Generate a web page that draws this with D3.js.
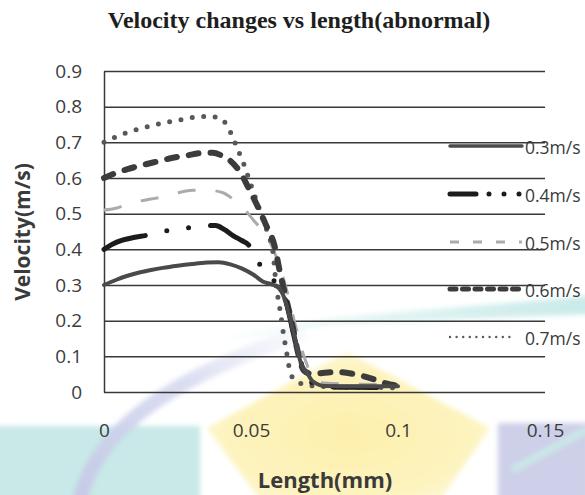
<!DOCTYPE html>
<html>
<head>
<meta charset="utf-8">
<script src="https://cdn.jsdelivr.net/npm/d3@7"></script>
<style>
  body { margin: 0; background: #fff; }
  svg { display: block; }
</style>
</head>
<body>
<div id="chart"></div>
<script>
// Length (mm) and velocity (m/s) samples, one pair of arrays per inlet velocity
const len03 = [0, 0.004, 0.008, 0.012, 0.016, 0.02, 0.025, 0.03, 0.035, 0.039, 0.043, 0.047, 0.051, 0.054, 0.057, 0.059, 0.0615, 0.0635, 0.0655, 0.067, 0.069, 0.071, 0.075, 0.085, 0.1];
const vel03 = [0.300, 0.314, 0.326, 0.335, 0.342, 0.348, 0.354, 0.359, 0.363, 0.364, 0.358, 0.346, 0.328, 0.310, 0.302, 0.295, 0.260, 0.200, 0.130, 0.080, 0.055, 0.030, 0.017, 0.016, 0.016];

const len04 = [0, 0.003, 0.006, 0.01, 0.015, 0.02, 0.025, 0.03, 0.035, 0.038, 0.041, 0.044, 0.047, 0.049, 0.052, 0.055, 0.058, 0.06, 0.062, 0.064, 0.066, 0.068, 0.07, 0.075, 0.085, 0.1];
const vel04 = [0.400, 0.415, 0.425, 0.433, 0.440, 0.450, 0.456, 0.462, 0.466, 0.467, 0.455, 0.438, 0.424, 0.414, 0.370, 0.335, 0.310, 0.290, 0.250, 0.180, 0.110, 0.060, 0.030, 0.015, 0.013, 0.012];

const len05 = [0, 0.004, 0.008, 0.012, 0.016, 0.02, 0.025, 0.03, 0.035, 0.04, 0.044, 0.048, 0.051, 0.0555, 0.059, 0.062, 0.065, 0.068, 0.071, 0.075, 0.085, 0.1];
const vel05 = [0.510, 0.515, 0.527, 0.535, 0.541, 0.547, 0.558, 0.566, 0.566, 0.560, 0.540, 0.510, 0.480, 0.435, 0.370, 0.290, 0.190, 0.100, 0.045, 0.025, 0.022, 0.020];

const len06 = [0, 0.004, 0.008, 0.013, 0.018, 0.023, 0.028, 0.033, 0.037, 0.040, 0.043, 0.046, 0.049, 0.052, 0.055, 0.058, 0.060, 0.062, 0.064, 0.066, 0.068, 0.071, 0.075, 0.079, 0.084, 0.088, 0.092, 0.096, 0.1];
const vel06 = [0.600, 0.614, 0.625, 0.636, 0.646, 0.656, 0.663, 0.670, 0.671, 0.663, 0.648, 0.620, 0.575, 0.525, 0.470, 0.410, 0.330, 0.260, 0.190, 0.110, 0.060, 0.050, 0.054, 0.056, 0.052, 0.045, 0.035, 0.024, 0.017];

const len07 = [0, 0.004, 0.008, 0.012, 0.016, 0.020, 0.024, 0.028, 0.032, 0.036, 0.039, 0.0415, 0.0435, 0.0455, 0.0475, 0.050, 0.053, 0.0555, 0.0576, 0.0583, 0.0593, 0.0600, 0.0610, 0.0617, 0.0624, 0.0630, 0.0644, 0.0678, 0.075, 0.1];
const vel07 = [0.700, 0.715, 0.728, 0.738, 0.746, 0.754, 0.760, 0.766, 0.772, 0.773, 0.768, 0.752, 0.720, 0.680, 0.640, 0.580, 0.510, 0.450, 0.384, 0.320, 0.258, 0.224, 0.165, 0.130, 0.098, 0.067, 0.038, 0.022, 0.015, 0.012];

const seriesNames = ['0.3m/s', '0.4m/s', '0.5m/s', '0.6m/s', '0.7m/s'];
const xTicks = [0, 0.05, 0.1, 0.15];
const yTicks = [0, 0.1, 0.2, 0.3, 0.4, 0.5, 0.6, 0.7, 0.8, 0.9];

const W = 585, H = 495;
const plot = { left: 104, right: 545, top: 71, bottom: 392 };

const svg = d3.select('#chart').append('svg')
  .attr('width', W)
  .attr('height', H);

svg.append('rect').attr('width', W).attr('height', H).attr('fill', '#fff');

// faint printed logo behind the chart
const defs = svg.append('defs');
defs.append('filter').attr('id', 'soft')
  .append('feGaussianBlur').attr('stdDeviation', 2.5);
const streak = defs.append('linearGradient').attr('id', 'streak')
  .attr('x1', 0).attr('x2', 1).attr('y1', 0).attr('y2', 0);
streak.append('stop').attr('offset', 0).attr('stop-color', '#d3efee').attr('stop-opacity', 0);
streak.append('stop').attr('offset', 0.45).attr('stop-color', '#d3efee').attr('stop-opacity', 0.7);
streak.append('stop').attr('offset', 1).attr('stop-color', '#c8eae8').attr('stop-opacity', 1);
const arc = defs.append('linearGradient').attr('id', 'arc')
  .attr('x1', 0).attr('x2', 1).attr('y1', 1).attr('y2', 0);
arc.append('stop').attr('offset', 0).attr('stop-color', '#c6cae6').attr('stop-opacity', 1);
arc.append('stop').attr('offset', 0.6).attr('stop-color', '#d2d6ee').attr('stop-opacity', 0.8);
arc.append('stop').attr('offset', 1).attr('stop-color', '#e0e6f3').attr('stop-opacity', 0.2);
const sun = defs.append('radialGradient').attr('id', 'sun')
  .attr('cx', 0.5).attr('cy', 0.55).attr('r', 0.6);
sun.append('stop').attr('offset', 0).attr('stop-color', '#fdf0ad');
sun.append('stop').attr('offset', 0.7).attr('stop-color', '#fdf3bd');
sun.append('stop').attr('offset', 1).attr('stop-color', '#fef8dc');

const logo = svg.append('g').attr('filter', 'url(#soft)');
logo.append('rect').attr('x', -5).attr('y', 426).attr('width', 205).attr('height', 80).attr('fill', '#c8e9e7');
logo.append('rect').attr('x', 498).attr('y', 423).attr('width', 92).attr('height', 80).attr('fill', '#cdd0e8');
logo.append('path').attr('d', 'M512,470 L590,428').attr('stroke', '#cbe8e8').attr('stroke-width', 7).attr('fill', 'none');
logo.append('polygon')
  .attr('points', '347,352 490,428 440,500 260,500 207,428')
  .attr('fill', 'url(#sun)');
logo.append('path')
  .attr('d', 'M215,338 L330,318 L590,296 L590,314 L330,325 L215,343 Z')
  .attr('fill', 'url(#streak)');
logo.append('path')
  .attr('d', 'M80,500 Q102,398 305,333')
  .attr('stroke', 'url(#arc)').attr('stroke-width', 15).attr('fill', 'none');

const x = d3.scaleLinear().domain([0, 0.15]).range([plot.left, plot.right]);
const y = d3.scaleLinear().domain([0, 0.9]).range([plot.bottom, plot.top]);

// Y axis with gridlines
const yAxis = svg.append('g')
  .attr('transform', `translate(${plot.left},0)`)
  .call(d3.axisLeft(y)
    .tickValues(yTicks)
    .tickSizeInner(-(plot.right - plot.left))
    .tickSizeOuter(0)
    .tickPadding(22)
    .tickFormat(d => String(d)));
yAxis.select('.domain').attr('stroke', '#383838').attr('stroke-width', 1.5);
yAxis.selectAll('.tick line').attr('stroke', '#383838').attr('stroke-width', 1.5);
yAxis.selectAll('.tick text')
  .attr('font-family', '"Open Sans", sans-serif')
  .attr('font-size', 19)
  .attr('fill', '#3c3c3c');

// X axis: labels only
const xAxis = svg.append('g')
  .attr('transform', `translate(0,${plot.bottom})`)
  .call(d3.axisBottom(x)
    .tickValues(xTicks)
    .tickSize(0)
    .tickFormat(d => String(d)));
xAxis.select('.domain').remove();
xAxis.selectAll('.tick text')
  .attr('y', 38)
  .attr('dy', '0.35em')
  .attr('font-family', '"Open Sans", sans-serif')
  .attr('font-size', 19)
  .attr('fill', '#3c3c3c');

const styles = [
  { color: '#4a4a4a', width: 4, dash: null, cap: 'round', legendDash: null },
  { color: '#1c1c1c', width: 5, dash: '44 22 0 22 0 22', cap: 'round', legendDash: '26 13 0 15 0 15 0 200' },
  { color: '#ababab', width: 3, dash: '18 20', cap: 'butt', legendDash: '9 14' },
  { color: '#3c3c3c', width: 6, dash: '10 12', cap: 'round', legendDash: '6 6.5' },
  { color: '#585858', width: 5, dash: '0 11.5', cap: 'round', legendDash: '0 6.6' }
];

const series = [
  d3.zip(len03, vel03),
  d3.zip(len04, vel04),
  d3.zip(len05, vel05),
  d3.zip(len06, vel06),
  d3.zip(len07, vel07)
];

const line = d3.line()
  .x(d => x(d[0]))
  .y(d => y(d[1]))
  .curve(d3.curveMonotoneX);

const drawOrder = [2, 4, 3, 1, 0];
svg.append('g').selectAll('path')
  .data(drawOrder)
  .join('path')
  .attr('d', i => line(series[i]))
  .attr('fill', 'none')
  .attr('stroke', i => styles[i].color)
  .attr('stroke-width', i => styles[i].width)
  .attr('stroke-linecap', i => styles[i].cap)
  .attr('stroke-linejoin', 'round')
  .attr('stroke-dasharray', i => styles[i].dash);

// Legend on the right
const legendRows = [146, 194, 242, 289, 337];
const legend = svg.append('g');
seriesNames.forEach((name, i) => {
  const row = legend.append('g').attr('transform', `translate(0,${legendRows[i]})`);
  const s = styles[i];
  const x1 = 450, x2 = i === 4 ? 510 : 522;
  row.append('line')
    .attr('x1', x1).attr('x2', x2)
    .attr('stroke', s.color)
    .attr('stroke-width', i === 4 ? 2.4 : (i === 3 ? 5 : (i === 0 ? 3.5 : s.width)))
    .attr('stroke-linecap', s.cap)
    .attr('stroke-dasharray', s.legendDash);
  row.append('text')
    .attr('x', 525)
    .attr('y', 2)
    .attr('dy', '0.35em')
    .attr('font-family', '"Open Sans", sans-serif')
    .attr('font-size', 17.5)
    .attr('fill', '#3a3a3a')
    .text(name);
});

// Titles
svg.append('text')
  .attr('x', 299)
  .attr('y', 28)
  .attr('text-anchor', 'middle')
  .attr('font-family', '"Liberation Serif", "Times New Roman", serif')
  .attr('font-weight', 'bold')
  .attr('font-size', 24)
  .attr('fill', '#1e1e1e')
  .text('Velocity changes vs length(abnormal)');

svg.append('text')
  .attr('transform', 'translate(23,232) rotate(-90)')
  .attr('text-anchor', 'middle')
  .attr('dy', '0.35em')
  .attr('font-family', '"Open Sans", sans-serif')
  .attr('font-weight', 'bold')
  .attr('font-size', 21)
  .attr('fill', '#3a3a3a')
  .text('Velocity(m/s)');

svg.append('text')
  .attr('x', 325)
  .attr('y', 488)
  .attr('text-anchor', 'middle')
  .attr('font-family', '"Open Sans", sans-serif')
  .attr('font-weight', 'bold')
  .attr('font-size', 22)
  .attr('fill', '#3a3a3a')
  .text('Length(mm)');
</script>
</body>
</html>
